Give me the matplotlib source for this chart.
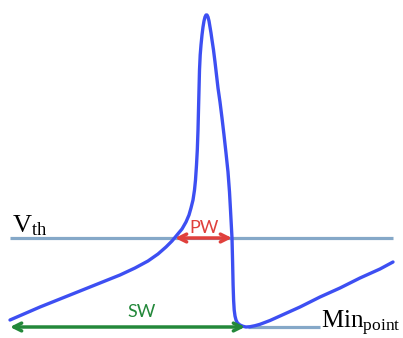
import matplotlib
matplotlib.use("Agg")
import matplotlib.pyplot as plt

# waveform (pixel coords, y grows downward)
wave_x = [10, 40, 70, 100, 120, 135, 148, 158, 166, 172, 177, 182, 186, 189, 191, 193,
          194.5, 195.5, 196.5, 197.3, 198, 198.5, 199, 199.5, 200.2, 201, 202, 203, 204, 205, 206,
          207, 208, 209, 210, 211, 212, 213.5, 215, 216.5, 218, 220, 222, 224, 226, 228, 229.5, 230.5,
          231.3, 232, 232.6, 233.1, 233.6, 234.2, 235, 236, 237.5, 240, 243, 246, 250, 255, 260,
          270, 280, 300, 320, 340, 360, 380, 393]
wave_y = [320, 307, 295, 283, 275, 268, 261, 254, 247, 241, 235, 229, 222, 215, 208, 200,
          190, 180, 165, 150, 130, 110, 90, 70, 55, 45, 35, 27, 21, 17, 15,
          15, 17, 21, 27, 33, 40, 50, 62, 75, 88, 102, 118, 135, 153, 172, 192, 210,
          225, 238, 262, 285, 300, 310, 316, 320, 323, 325, 326.3, 327, 326.7, 325.7, 324.3,
          320.5, 316, 307, 297, 288, 278, 269, 262]

vth_y = 238
vth_span = (10, 393)
min_y = 327
min_span = (248, 320)
pw_span = (175, 232)
sw_span = (10, 245)

plt.rcParams['mathtext.fontset'] = 'custom'
plt.rcParams['mathtext.rm'] = 'Liberation Serif'

fig = plt.figure(figsize=(4.03, 3.38), dpi=100)
ax = fig.add_axes([0, 0, 1, 1])
ax.set_xlim(0, 403)
ax.set_ylim(338, 0)
ax.axis('off')

line_col = '#85a8c8'
ax.plot(vth_span, [vth_y, vth_y], color=line_col, lw=2.3, solid_capstyle='butt')
ax.plot(min_span, [min_y, min_y], color=line_col, lw=2.3, solid_capstyle='butt')

ax.plot(wave_x, wave_y, color='#3d4ff2', lw=2.4, solid_joinstyle='round', solid_capstyle='round')

ax.annotate('', xy=(pw_span[0], vth_y), xytext=(pw_span[1], vth_y),
            arrowprops=dict(arrowstyle='<->', lw=2.5, color='#e0403c', shrinkA=0, shrinkB=0,
                            mutation_scale=14))
ax.text(204, 228, 'PW', color='#e0403c', fontsize=13, ha='center', va='center', family='Lato')

ax.annotate('', xy=(sw_span[0], min_y), xytext=(sw_span[1], min_y),
            arrowprops=dict(arrowstyle='<->', lw=2.5, color='#23883a', shrinkA=0, shrinkB=0,
                            mutation_scale=14))
ax.text(142, 312, 'SW', color='#23883a', fontsize=13, ha='center', va='center', family='Lato')

ax.text(12, 232, r'$\mathrm{V_{th}}$', fontsize=19, ha='left', va='baseline')
ax.text(321, 328, r'$\mathrm{Min_{point}}$', fontsize=18, ha='left', va='baseline')

fig.savefig('out.png', dpi=100)
